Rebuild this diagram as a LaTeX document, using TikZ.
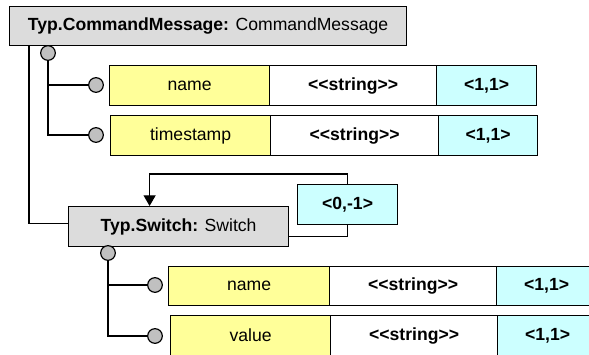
\documentclass[tikz,border=0pt]{standalone}
\usepackage{fontspec}
\setmainfont{Liberation Sans}
\usetikzlibrary{arrows.meta}
\definecolor{hdrgrey}{HTML}{DCDCDC}
\definecolor{namey}{HTML}{FFFF99}
\definecolor{cardc}{HTML}{CCFFFF}
\definecolor{dotgrey}{HTML}{C0C0C0}
\newcommand{\stereo}[1]{{<}{<}#1{>}{>}}
\begin{document}
\begin{tikzpicture}[x=0.75pt,y=-0.75pt,
  cell/.style={draw, line width=0.9pt, anchor=north west, inner sep=0pt,
    minimum height=30pt, font=\fontsize{13.2}{15}\selectfont},
  cellw/.style={minimum width=#1*0.75pt},
  typebox/.style={cell, fill=hdrgrey},
  namebox/.style={cell, fill=namey},
  kindbox/.style={cell, fill=white, font=\fontsize{13.2}{15}\selectfont\bfseries},
  cardbox/.style={cell, fill=cardc, font=\fontsize{13.2}{15}\selectfont\bfseries},
  dot/.style={circle, draw, line width=0.9pt, fill=dotgrey, inner sep=0pt, minimum size=11pt},
  link/.style={draw, line width=0.9pt}]
\useasboundingbox (0,0) rectangle (589,354);
\clip (0,0) rectangle (589,354);

% root element
\node[typebox, cellw=397, minimum height=29.25pt] (cm) at (9,6)
  {\textbf{Typ.CommandMessage:} CommandMessage};
\node[dot] (c0) at (48,53) {};

% attributes of the root
\node[namebox, cellw=160] (n1) at (109,65) {name};
\node[kindbox, cellw=167] (t1) at (269,65) {\stereo{string}};
\node[cardbox, cellw=100] (m1) at (436,65) {<1,1>};
\node[dot] (c1) at (96,85) {};

\node[namebox, cellw=160] (n2) at (110,115) {timestamp};
\node[kindbox, cellw=168] (t2) at (270,115) {\stereo{string}};
\node[cardbox, cellw=99] (m2) at (438,115) {<1,1>};
\node[dot] (c2) at (96,135) {};

% child element
\node[typebox, cellw=220] (sw) at (68,206) {\textbf{Typ.Switch:} Switch};
\node[cardbox, cellw=100] (card) at (297,184) {<0,-1>};
\node[dot] (c3) at (108,253) {};

% attributes of the child
\node[namebox, cellw=161, minimum height=29.25pt] (n3) at (168,266) {name};
\node[kindbox, cellw=167, minimum height=29.25pt] (t3) at (329,266) {\stereo{string}};
\node[cardbox, cellw=100, minimum height=29.25pt] (m3) at (496,266) {<1,1>};
\node[dot] (c4) at (155,285) {};

\node[namebox, cellw=160] (n4) at (170,315) {value};
\node[kindbox, cellw=167] (t4) at (330,315) {\stereo{string}};
\node[cardbox, cellw=100] (m4) at (497,315) {<1,1>};
\node[dot] (c5) at (155,336) {};

% connectors
\draw[link] ([xshift=15pt]cm.south west) |- ([yshift=2.25pt]sw.west);
\draw[link] (c0.south) |- (c1.west);
\draw[link] (c0.south) |- (c2.west);
\draw[link] (c3.south) |- (c4.west);
\draw[link] (c3.south) |- (c5.west);
\draw[link, -{Triangle[width=9pt,length=8pt]}]
  (card.north) -- ++(0,-10) -| ([xshift=-21.75pt]sw.north);
\draw[link] (card.south) |- ([yshift=-7.5pt]sw.east);
\end{tikzpicture}
\end{document}
